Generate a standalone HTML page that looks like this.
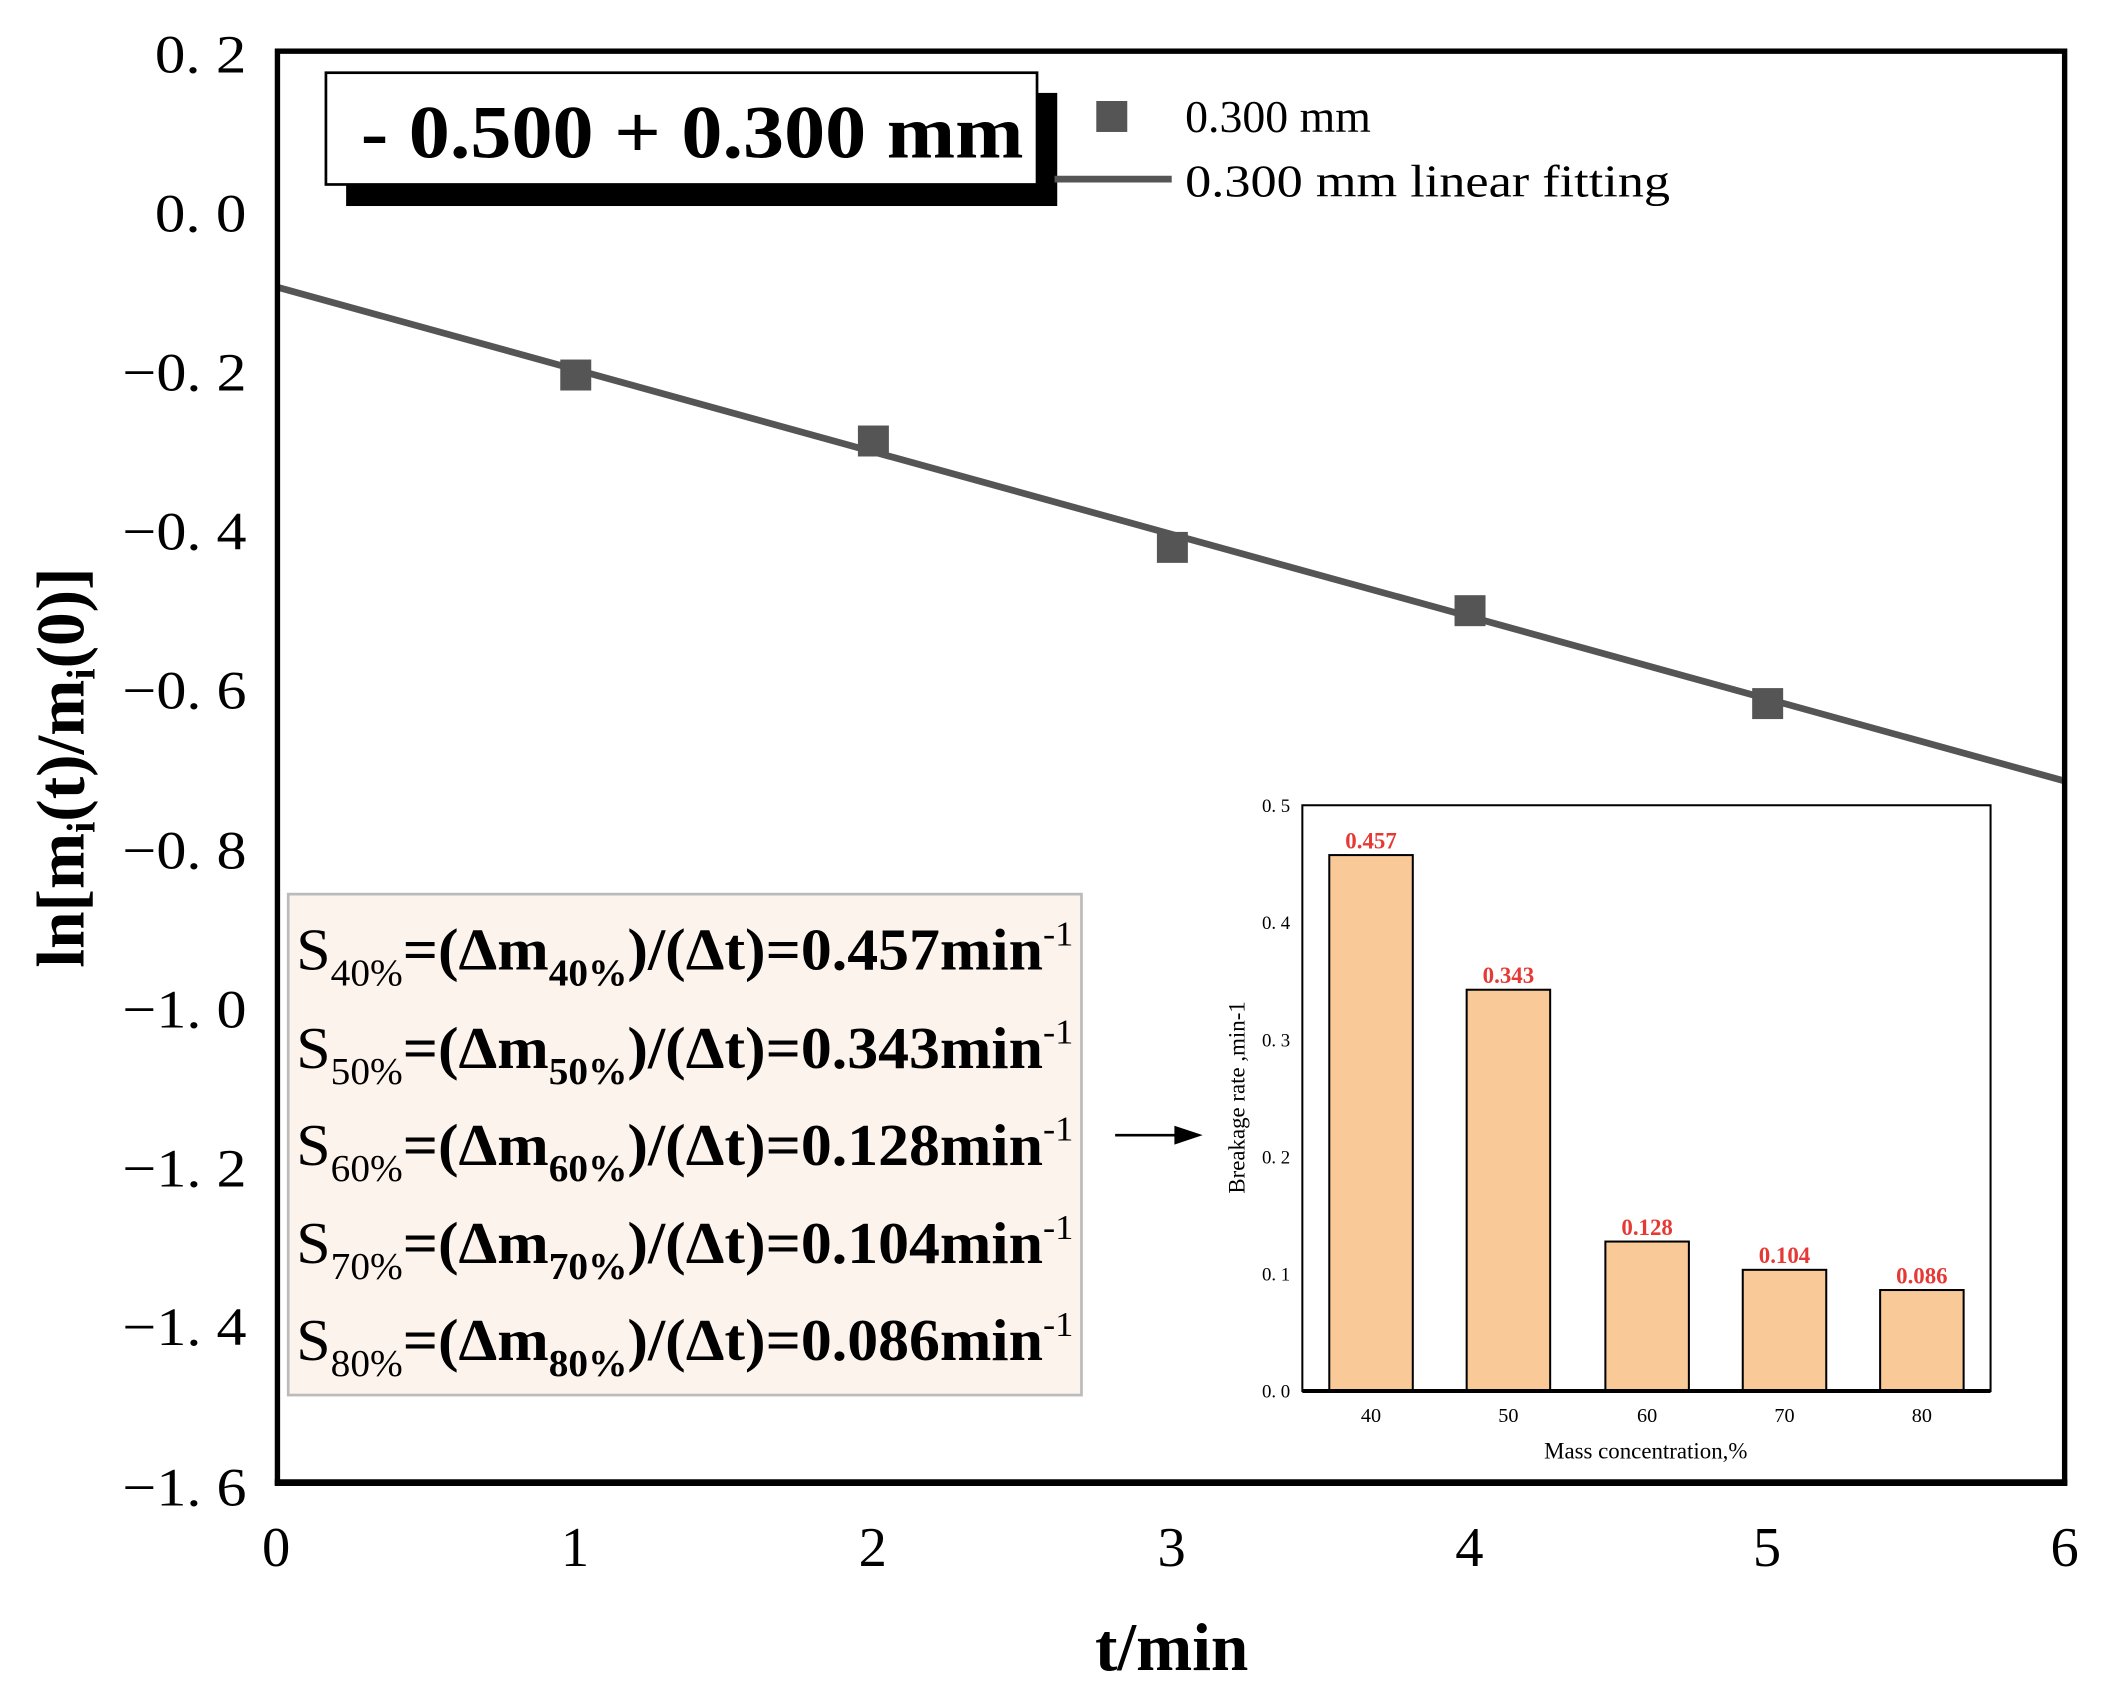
<!DOCTYPE html>
<html><head><meta charset="utf-8"><style>html,body{margin:0;padding:0;background:#fff}svg{display:block}</style></head>
<body>
<svg width="2101" height="1694" viewBox="0 0 1560 1258" preserveAspectRatio="none" xmlns="http://www.w3.org/2000/svg" font-family="Liberation Serif, serif">
<rect width="1560" height="1258" fill="#fff"/>
<g font-size="40" text-anchor="end">
<text x="183" y="54" textLength="68" lengthAdjust="spacingAndGlyphs">0. 2</text>
<text x="183" y="172" textLength="68" lengthAdjust="spacingAndGlyphs">0. 0</text>
<text x="183" y="290" textLength="92" lengthAdjust="spacingAndGlyphs">−0. 2</text>
<text x="183" y="408" textLength="92" lengthAdjust="spacingAndGlyphs">−0. 4</text>
<text x="183" y="526" textLength="92" lengthAdjust="spacingAndGlyphs">−0. 6</text>
<text x="183" y="645" textLength="92" lengthAdjust="spacingAndGlyphs">−0. 8</text>
<text x="183" y="763" textLength="92" lengthAdjust="spacingAndGlyphs">−1. 0</text>
<text x="183" y="881" textLength="92" lengthAdjust="spacingAndGlyphs">−1. 2</text>
<text x="183" y="999" textLength="92" lengthAdjust="spacingAndGlyphs">−1. 4</text>
<text x="183" y="1118" textLength="92" lengthAdjust="spacingAndGlyphs">−1. 6</text>
</g>
<g font-size="42" text-anchor="middle">
<text x="205" y="1163">0</text><text x="427" y="1163">1</text><text x="648" y="1163">2</text>
<text x="870" y="1163">3</text><text x="1091" y="1163">4</text><text x="1312" y="1163">5</text><text x="1533" y="1163">6</text>
</g>
<text x="870" y="1240" font-size="50" font-weight="bold" text-anchor="middle">t/min</text>
<text transform="translate(62,570) rotate(-90)" font-size="50" font-weight="bold" text-anchor="middle">ln[m<tspan font-size="30" dy="8">i</tspan><tspan dy="-8">(t)/m</tspan><tspan font-size="30" dy="8">i</tspan><tspan dy="-8">(0)]</tspan></text>
<line x1="205" y1="213" x2="1533" y2="580" stroke="#555" stroke-width="5"/>
<g fill="#555">
<rect x="416" y="267" width="23" height="23"/><rect x="637" y="316" width="23" height="23"/>
<rect x="859" y="395" width="23" height="23"/><rect x="1080" y="442" width="23" height="23"/>
<rect x="1301" y="511" width="23" height="23"/>
</g>
<rect x="257" y="69" width="528" height="84" fill="#000"/>
<rect x="242" y="54" width="528" height="83" fill="#fff" stroke="#000" stroke-width="2"/>
<text x="268" y="117" font-size="56" font-weight="bold" textLength="492" lengthAdjust="spacingAndGlyphs">- 0.500 + 0.300 mm</text>
<rect x="814" y="75" width="23" height="23" fill="#555"/>
<text x="880" y="98" font-size="34">0.300 mm</text>
<line x1="783" y1="133" x2="870" y2="133" stroke="#555" stroke-width="5"/>
<text x="880" y="146" font-size="34" textLength="360" lengthAdjust="spacingAndGlyphs">0.300 mm linear fitting</text>
<rect x="214" y="664" width="589" height="372" fill="#fdf3ed" stroke="#bbb" stroke-width="2"/>
<g font-size="44">
<text x="220" y="720" textLength="577" lengthAdjust="spacingAndGlyphs">S<tspan font-size="28" dy="12">40%</tspan><tspan dy="-12" font-weight="bold">=(Δm</tspan><tspan font-size="28" dy="12" font-weight="bold">40%</tspan><tspan dy="-12" font-weight="bold">)/(Δt)=0.457min</tspan><tspan font-size="26" dy="-18">-1</tspan></text>
<text x="220" y="793" textLength="577" lengthAdjust="spacingAndGlyphs">S<tspan font-size="28" dy="12">50%</tspan><tspan dy="-12" font-weight="bold">=(Δm</tspan><tspan font-size="28" dy="12" font-weight="bold">50%</tspan><tspan dy="-12" font-weight="bold">)/(Δt)=0.343min</tspan><tspan font-size="26" dy="-18">-1</tspan></text>
<text x="220" y="865" textLength="577" lengthAdjust="spacingAndGlyphs">S<tspan font-size="28" dy="12">60%</tspan><tspan dy="-12" font-weight="bold">=(Δm</tspan><tspan font-size="28" dy="12" font-weight="bold">60%</tspan><tspan dy="-12" font-weight="bold">)/(Δt)=0.128min</tspan><tspan font-size="26" dy="-18">-1</tspan></text>
<text x="220" y="938" textLength="577" lengthAdjust="spacingAndGlyphs">S<tspan font-size="28" dy="12">70%</tspan><tspan dy="-12" font-weight="bold">=(Δm</tspan><tspan font-size="28" dy="12" font-weight="bold">70%</tspan><tspan dy="-12" font-weight="bold">)/(Δt)=0.104min</tspan><tspan font-size="26" dy="-18">-1</tspan></text>
<text x="220" y="1010" textLength="577" lengthAdjust="spacingAndGlyphs">S<tspan font-size="28" dy="12">80%</tspan><tspan dy="-12" font-weight="bold">=(Δm</tspan><tspan font-size="28" dy="12" font-weight="bold">80%</tspan><tspan dy="-12" font-weight="bold">)/(Δt)=0.086min</tspan><tspan font-size="26" dy="-18">-1</tspan></text>
</g>
<line x1="828" y1="843" x2="878" y2="843" stroke="#000" stroke-width="2"/>
<polygon points="893,843 872,836 872,850" fill="#000"/>
<g stroke="#000" stroke-width="1.5" fill="#f9c998">
<rect x="987" y="635" width="62" height="398"/>
<rect x="1089" y="735" width="62" height="298"/>
<rect x="1192" y="922" width="62" height="111"/>
<rect x="1294" y="943" width="62" height="90"/>
<rect x="1396" y="958" width="62" height="75"/>
</g>
<rect x="967" y="598" width="511" height="435" fill="none" stroke="#000" stroke-width="1.5"/>
<line x1="967" y1="1033" x2="1478" y2="1033" stroke="#000" stroke-width="3"/>
<g font-size="17" font-weight="bold" fill="#e53935" text-anchor="middle">
<text x="1018" y="630">0.457</text><text x="1120" y="730">0.343</text><text x="1223" y="917">0.128</text>
<text x="1325" y="938">0.104</text><text x="1427" y="953">0.086</text>
</g>
<g font-size="14" text-anchor="end">
<text x="958" y="603">0. 5</text><text x="958" y="690">0. 4</text><text x="958" y="777">0. 3</text>
<text x="958" y="864">0. 2</text><text x="958" y="951">0. 1</text><text x="958" y="1038">0. 0</text>
</g>
<g font-size="15" text-anchor="middle">
<text x="1018" y="1056">40</text><text x="1120" y="1056">50</text><text x="1223" y="1056">60</text>
<text x="1325" y="1056">70</text><text x="1427" y="1056">80</text>
</g>
<text x="1222" y="1083" font-size="17" text-anchor="middle">Mass concentration,%</text>
<text transform="translate(924,815) rotate(-90)" font-size="17" text-anchor="middle">Breakage rate ,min-1</text>
<rect x="206" y="38" width="1327" height="1063" fill="none" stroke="#000" stroke-width="4"/>
<line x1="204" y1="1101" x2="1535" y2="1101" stroke="#000" stroke-width="5"/>
</svg>
</body></html>
